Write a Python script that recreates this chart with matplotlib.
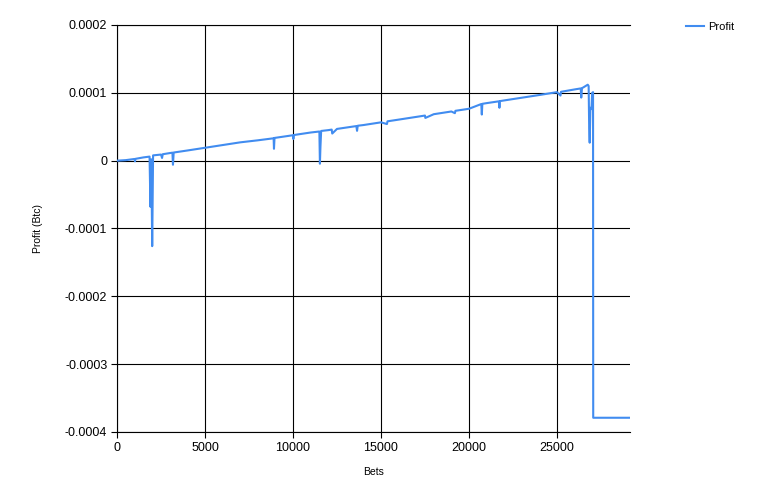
import matplotlib
matplotlib.use('Agg')
import matplotlib.pyplot as plt

plt.rcParams['font.family'] = ['Liberation Sans', 'DejaVu Sans']

# Data (bets, profit in BTC)
bets = [0, 500, 1000, 1020, 1050, 1500, 1850, 1900, 1950, 2000, 2050,
        2500, 2560, 2600, 3150, 3180, 3220, 4000, 5000, 6000, 7000, 8000,
        8900, 8920, 8950, 10000, 10020, 10050, 11000, 11500, 11530, 11560,
        11600, 12000, 12200, 12230, 12500, 13600, 13640, 13680, 14000, 15000,
        15340, 15370, 16000, 17000, 17500, 17520, 18000, 19000, 19200, 19230,
        20000, 20700, 20730, 20760, 21000, 21700, 21730, 21760, 22000, 23000,
        24000, 25000, 25200, 25230, 26000, 26350, 26380, 26420, 26750, 26800,
        26830, 26860, 26900, 26960, 27000, 27050, 27060, 29150]
profit = [0.0, 0.8e-6, 2.5e-6, -1.0e-6, 2.7e-6, 4.8e-6, 6.0e-6, -68.0e-6, 2.0e-6,
          -126.0e-6, 7.8e-6, 9.0e-6, 4.0e-6, 9.5e-6, 11.8e-6, -6.0e-6, 12.0e-6,
          15.0e-6, 19.0e-6, 23.0e-6, 27.0e-6, 30.0e-6, 33.0e-6, 17.5e-6, 33.5e-6,
          37.5e-6, 32.0e-6, 37.8e-6, 41.5e-6, 43.0e-6, -4.5e-6, 20.0e-6, 43.8e-6,
          45.0e-6, 45.8e-6, 40.0e-6, 46.8e-6, 51.0e-6, 44.0e-6, 51.5e-6, 52.5e-6,
          56.5e-6, 54.0e-6, 58.0e-6, 60.5e-6, 64.5e-6, 66.5e-6, 63.0e-6, 68.5e-6,
          72.5e-6, 70.0e-6, 73.5e-6, 76.5e-6, 83.5e-6, 68.0e-6, 83.8e-6, 84.8e-6,
          87.5e-6, 78.0e-6, 87.8e-6, 88.8e-6, 92.8e-6, 96.8e-6, 101.0e-6, 96.0e-6,
          101.5e-6, 105.0e-6, 106.5e-6, 93.0e-6, 106.8e-6, 112.0e-6, 110.0e-6,
          50.0e-6, 26.5e-6, 78.0e-6, 76.0e-6, 100.0e-6, 101.0e-6, -379.0e-6,
          -379.0e-6]

xticks = [0, 5000, 10000, 15000, 20000, 25000]
yticks = [-0.0004, -0.0003, -0.0002, -0.0001, 0, 0.0001, 0.0002]
ytick_labels = ['-0.0004', '-0.0003', '-0.0002', '-0.0001', '0', '0.0001', '0.0002']

fig = plt.figure(figsize=(7.78, 4.99), dpi=100)
fig.patch.set_facecolor('white')
ax = fig.add_axes([117 / 778, 67 / 499, 513 / 778, 407 / 499])

ax.plot(bets, profit, color='#418CF0', linewidth=1.5, label='Profit', zorder=3)

ax.set_xlim(0, 29150)
ax.set_ylim(-0.0004, 0.0002)
ax.set_xticks(xticks)
ax.set_xticklabels([str(x) for x in xticks])
ax.set_yticks(yticks)
ax.set_yticklabels(ytick_labels)

ax.grid(True, color='black', linewidth=0.8)
ax.set_axisbelow(True)
ax.spines['right'].set_visible(False)
for s in ['left', 'bottom', 'top']:
    ax.spines[s].set_color('black')
    ax.spines[s].set_linewidth(0.8)

ax.tick_params(direction='out', length=4, width=0.8, colors='black',
               labelsize=9, pad=3)

ax.set_xlabel('Bets', fontsize=7.5)
ax.set_ylabel('Profit (Btc)', fontsize=7.5)
ax.xaxis.set_label_coords(0.5, -0.085)
ax.yaxis.set_label_coords(-74 / 513, 0.5)

fig.legend(loc='upper left', bbox_to_anchor=(676 / 778, 1 - 12 / 499),
           frameon=False, fontsize=8, handlelength=1.6, handletextpad=0.4)

plt.savefig('out.png', dpi=100)
